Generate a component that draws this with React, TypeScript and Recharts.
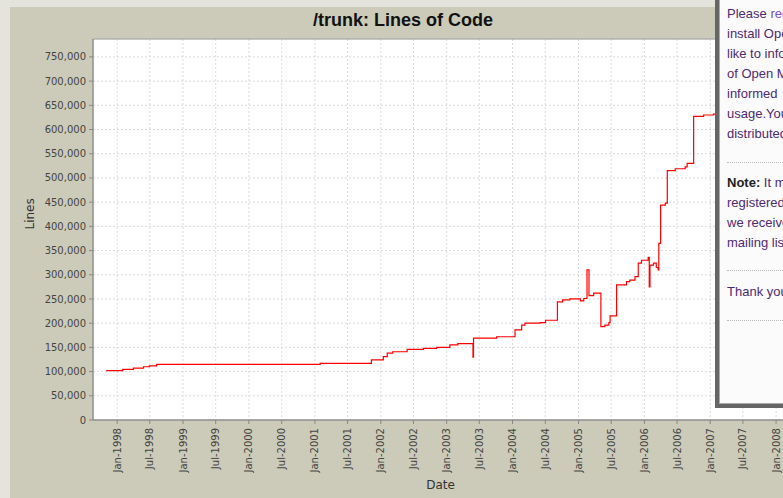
// StatSVN style "Lines of Code" step chart, with the popup box that covers its right edge.
import { LineChart, Line, XAxis, YAxis, CartesianGrid, ReferenceArea } from 'recharts';

const dates = [
  '1997-11-01', '1998-02-01', '1998-04-01', '1998-05-27', '1998-06-28', '1998-08-08',
  '2001-01-30', '2001-11-10', '2002-01-15', '2002-02-06', '2002-03-08', '2002-05-27',
  '2002-08-26', '2002-11-07', '2003-01-19', '2003-03-04', '2003-05-27', '2003-05-30',
  '2003-10-05', '2004-01-15', '2004-02-21', '2004-03-10', '2004-06-02', '2004-07-02',
  '2004-09-06', '2004-10-05', '2004-11-14', '2005-01-11', '2005-01-30', '2005-02-17',
  '2005-02-28', '2005-03-26', '2005-05-05', '2005-05-27', '2005-06-18', '2005-06-25',
  '2005-07-31', '2005-09-24', '2005-10-12', '2005-11-10', '2005-11-28', '2005-12-16',
  '2006-01-22', '2006-01-28', '2006-02-01', '2006-02-20', '2006-03-08', '2006-03-18',
  '2006-03-22', '2006-04-01', '2006-04-27', '2006-05-08', '2006-06-21', '2006-08-15',
  '2006-08-26', '2006-10-01', '2006-11-25', '2007-01-19', '2007-02-15',
];

const lines = [
  102000, 104700, 107000, 110000, 112000, 115000,
  117000, 124000, 131000, 138000, 141000, 146000,
  148000, 150000, 155000, 157600, 130000, 169000,
  172000, 186000, 196000, 200000, 201000, 206000,
  244000, 248000, 250000, 246000, 251000, 310000,
  257000, 262000, 193000, 196000, 201000, 215000,
  279000, 286000, 289000, 296000, 324000, 330000,
  336000, 275000, 320000, 324000, 315000, 310000,
  365000, 444000, 448000, 515000, 519000, 523000,
  530000, 627000, 630000, 632000, 633000,
];

const xTicks = [
  '1998-01-01', '1998-07-01', '1999-01-01', '1999-07-01', '2000-01-01', '2000-07-01',
  '2001-01-01', '2001-07-01', '2002-01-01', '2002-07-01', '2003-01-01', '2003-07-01',
  '2004-01-01', '2004-07-01', '2005-01-01', '2005-07-01', '2006-01-01', '2006-07-01',
  '2007-01-01', '2007-07-01', '2008-01-01',
];

const yTicks = [0, 50000, 100000, 150000, 200000, 250000, 300000, 350000, 400000, 450000, 500000, 550000, 600000, 650000, 700000, 750000];

const months = ['Jan', 'Feb', 'Mar', 'Apr', 'May', 'Jun', 'Jul', 'Aug', 'Sep', 'Oct', 'Nov', 'Dec'];

const data = dates.map((d, i) => ({ t: Date.parse(d), lines: lines[i] }));
const xDomain: [number, number] = [Date.parse('1997-08-20'), Date.parse('2008-03-07')];
const yDomain: [number, number] = [0, 787000];

const fmtDate = (v: number) => {
  const d = new Date(v);
  return months[d.getUTCMonth()] + '-' + d.getUTCFullYear();
};

const DateTick = (props: any) => {
  const { x, y, payload } = props;
  return (
    <text
      x={x}
      y={y + 2}
      transform={`rotate(-90, ${x}, ${y + 2})`}
      textAnchor="end"
      dy="0.35em"
      fontSize={10}
      fontFamily="DejaVu Sans"
      fill="#444"
    >
      {fmtDate(payload.value)}
    </text>
  );
};

const popText = { color: '#4e2a6e', fontSize: 13, lineHeight: '20px', whiteSpace: 'nowrap' as const };
const sep = { position: 'absolute' as const, left: 8, width: 260, borderTop: '1px dotted #bbb' };

export default function App() {
  return (
    <div style={{ position: 'absolute', left: 0, top: 0, width: 783, height: 498, overflow: 'hidden', background: '#e4e4dc' }}>
      <div style={{ position: 'absolute', left: 10, top: 7, width: 786, height: 491, background: '#cccbb9' }}>
        <div style={{ position: 'absolute', left: 0, top: 0, width: 786, textAlign: 'center', font: 'bold 18px "Liberation Sans", Arial, sans-serif', lineHeight: '26px', color: '#111' }}>
          /trunk: Lines of Code
        </div>
        <LineChart width={786} height={491} data={data} margin={{ top: 32, right: 8, left: 0, bottom: 0 }}>
          <CartesianGrid fill="#ffffff" fillOpacity={1} stroke="#dadada" strokeDasharray="2 2" />
          <ReferenceArea x1={xDomain[0]} x2={xDomain[1]} y1={yDomain[0]} y2={yDomain[1]} fill="none" stroke="#9a9a9a" ifOverflow="visible" />
          <XAxis
            dataKey="t"
            type="number"
            scale="time"
            domain={xDomain}
            ticks={xTicks.map((d) => Date.parse(d))}
            tick={<DateTick />}
            tickSize={4}
            tickLine={{ stroke: '#888' }}
            axisLine={{ stroke: '#888' }}
            height={78}
            interval={0}
            label={{ value: 'Date', position: 'insideBottom', offset: 9, fontSize: 12, fontFamily: 'DejaVu Sans', fill: '#333' }}
          />
          <YAxis
            type="number"
            domain={yDomain}
            ticks={yTicks}
            width={83}
            tickSize={4}
            tickMargin={3}
            tickLine={{ stroke: '#888' }}
            axisLine={{ stroke: '#888' }}
            tick={{ fontSize: 10, fontFamily: 'DejaVu Sans', fill: '#444' }}
            tickFormatter={(v: number) => v.toLocaleString('en-US')}
            interval={0}
            label={{ value: 'Lines', angle: -90, position: 'insideLeft', offset: 20, fontSize: 12, fontFamily: 'DejaVu Sans', fill: '#333' }}
          />
          <Line type="stepAfter" dataKey="lines" stroke="#ff0000" strokeWidth={1.2} dot={false} isAnimationActive={false} />
        </LineChart>
      </div>
      <div style={{ position: 'absolute', left: 715, top: -6, width: 300, height: 414, boxSizing: 'border-box', border: '4px solid #666', boxShadow: 'inset 0 0 0 1px #aaa', background: '#fbfbfb', fontFamily: '"Liberation Sans", Arial, sans-serif' }}>
        <div style={{ position: 'absolute', left: 8, top: 6, ...popText }}>
          <div>Please <span style={{ color: '#7a4fc4' }}>register</span></div>
          <div>install Open</div>
          <div>like to inform</div>
          <div>of Open M</div>
          <div>informed</div>
          <div>usage.You</div>
          <div>distributed</div>
        </div>
        <div style={{ ...sep, top: 164 }} />
        <div style={{ position: 'absolute', left: 8, top: 175, ...popText }}>
          <div><b style={{ color: '#222' }}>Note:</b> It may</div>
          <div>registered</div>
          <div>we receive</div>
          <div>mailing list</div>
        </div>
        <div style={{ ...sep, top: 272 }} />
        <div style={{ position: 'absolute', left: 8, top: 284, ...popText }}>
          <div>Thank you</div>
        </div>
        <div style={{ ...sep, top: 322 }} />
      </div>
    </div>
  );
}
